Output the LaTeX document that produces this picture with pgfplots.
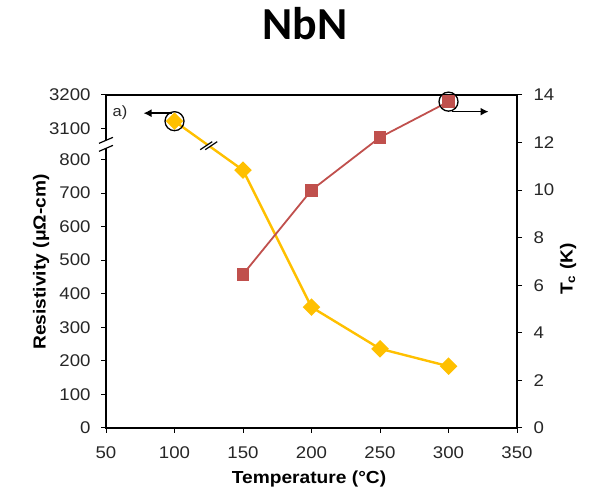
\documentclass[border=0pt]{standalone}
\usepackage{fontspec}
\setmainfont{Liberation Sans}[FakeStretch=1.1]
\newfontfamily\titlefont{Carlito}
\usepackage{pgfplots}
\pgfplotsset{compat=1.18}
\usetikzlibrary{arrows.meta}
\definecolor{gold}{HTML}{FFC000}
\definecolor{brick}{HTML}{C0504D}
\definecolor{axgray}{HTML}{262626}
\begin{document}
\begin{tikzpicture}[x=1bp,y=1bp]
\path[use as bounding box] (0,0) rectangle (600,492);
\node[font=\titlefont\bfseries\fontsize{46}{50}\selectfont] at (305,468) {NbN};
\pgfplotsset{
  common/.style={
    at={(106bp,64bp)}, anchor=south west, scale only axis,
    width=411bp, height=333bp, clip=false,
    xmin=50, xmax=350,
    tick align=outside, major tick length=5bp,
    every tick/.style={black, line width=1bp},
    axis line style={black, line width=1.3bp},
    tick label style={font=\fontsize{17}{20}\selectfont, text=axgray},
    xticklabel style={yshift=-10bp},
    /pgf/number format/assume math mode=true,
  }
}
\begin{axis}[common,
  ymin=0, ymax=992,
  xtick={50,100,...,350},
  ytick={0,100,200,300,400,500,600,700,800,892,992},
  yticklabels={0,100,200,300,400,500,600,700,800,3100,3200},
  xtick pos=bottom, ytick pos=left,
  yticklabel style={xshift=-7bp},
]
\addplot[gold, line width=2.4bp, mark=square*, mark size=5bp,
  mark options={rotate=45, solid}]
  coordinates {(100,914) (150,768) (200,360) (250,236) (300,184)};
\addplot[only marks, mark=o, mark size=9.5bp, mark options={black, line width=1.3bp}]
  coordinates {(100,914)};
\coordinate (lc) at (axis cs:100,914);
\coordinate (lb) at (axis cs:125,841);
\coordinate (sb) at (axis cs:50,845);
\end{axis}
\begin{axis}[common,
  ymin=0, ymax=14,
  axis x line=none, axis y line*=right,
  ytick={0,2,...,14},
  yticklabel style={xshift=8bp},
]
\addplot[brick, line width=1.8bp, mark=square*, mark size=5.5bp, mark options={solid}]
  coordinates {(150,6.46) (200,10.0) (250,12.22) (300,13.72)};
\addplot[only marks, mark=o, mark size=9.5bp, mark options={black, line width=1.3bp}]
  coordinates {(300,13.72)};
\coordinate (rc) at (axis cs:300,13.72);
\end{axis}
% arrows
\draw[-{Latex[length=8bp,width=8bp]}, line width=1.4bp]
  ([xshift=-3bp,yshift=8bp]lc) -- ([xshift=-31bp,yshift=8bp]lc);
\draw[-{Latex[length=8bp,width=8bp]}, line width=1.4bp]
  ([xshift=3bp,yshift=-10bp]rc) -- ([xshift=40bp,yshift=-10bp]rc);
\node[font=\fontsize{15}{17}\selectfont, text=axgray] at (120,379) {a)};
% break on curve
\fill[white] ([xshift=-8.5bp,yshift=-4bp]lb) -- ([xshift=3.5bp,yshift=4bp]lb)
  -- ([xshift=8.5bp,yshift=4bp]lb) -- ([xshift=-3.5bp,yshift=-4bp]lb) -- cycle;
\draw[black, line width=1.2bp] ([xshift=-8.5bp,yshift=-4bp]lb) -- ([xshift=3.5bp,yshift=4bp]lb);
\draw[black, line width=1.2bp] ([xshift=-3.5bp,yshift=-4bp]lb) -- ([xshift=8.5bp,yshift=4bp]lb);
% break on axis
\fill[white] ([xshift=-3bp,yshift=-4bp]sb) rectangle ([xshift=3bp,yshift=4bp]sb);
\draw[black, line width=1.2bp] ([xshift=-7bp,yshift=-7bp]sb) -- ([xshift=7bp,yshift=-1bp]sb);
\draw[black, line width=1.2bp] ([xshift=-7bp,yshift=1bp]sb) -- ([xshift=7bp,yshift=7bp]sb);
% labels
\node[rotate=90, font=\bfseries\fontsize{17.5}{20}\selectfont] at (41,230) {Resistivity (μΩ-cm)};
\node[rotate=90, font=\bfseries\fontsize{17.5}{20}\selectfont] at (568,223) {T\textsubscript{c} (K)};
\node[anchor=base, font=\bfseries\fontsize{17.5}{20}\selectfont] at (309,8) {Temperature (°C)};
\end{tikzpicture}
\end{document}
